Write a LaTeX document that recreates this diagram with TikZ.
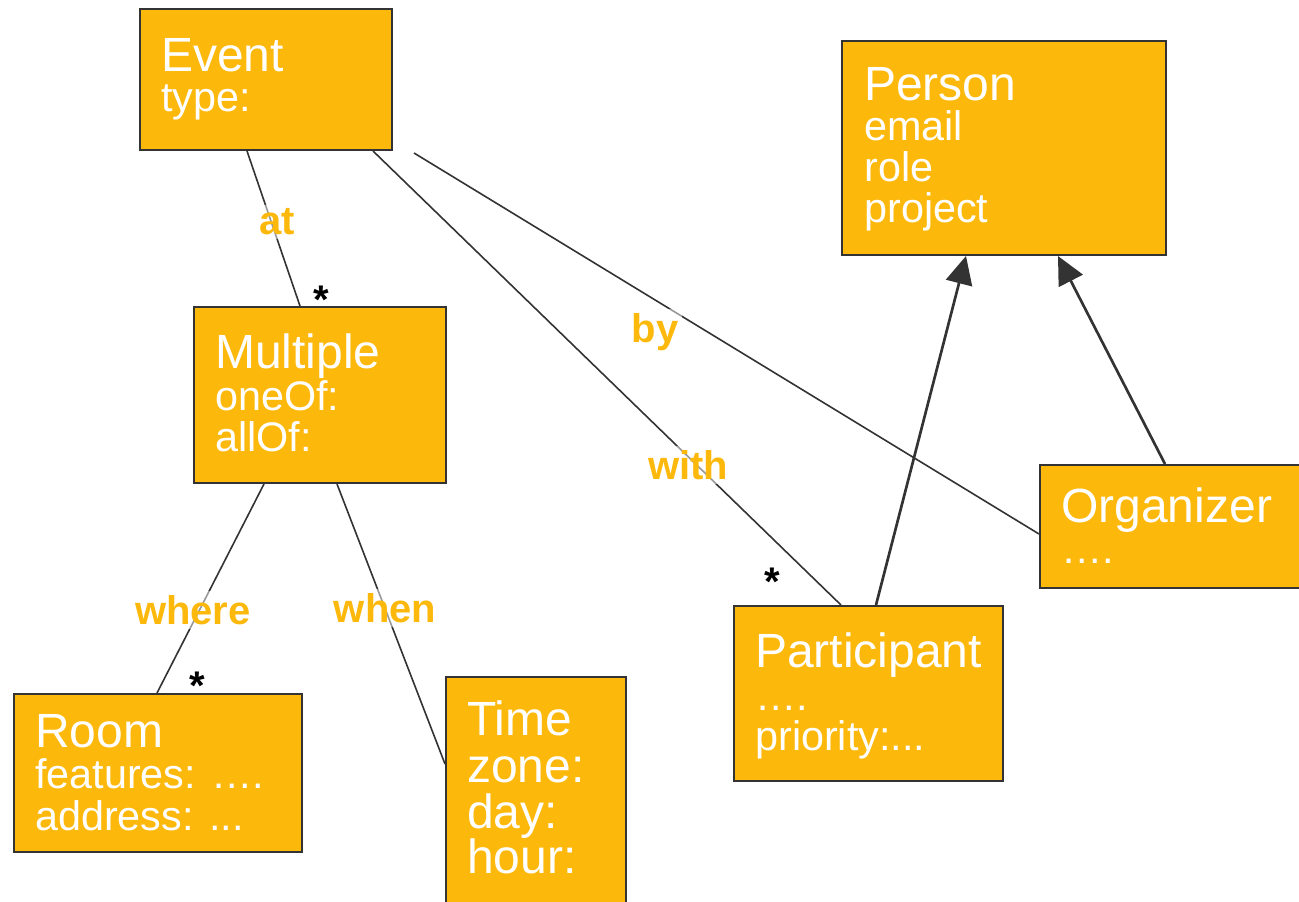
\documentclass[tikz,border=0pt]{standalone}
\usepackage{fontspec}
\setmainfont{Liberation Sans}
\usetikzlibrary{fit,calc,arrows.meta}
\definecolor{umlorange}{RGB}{253,184,12}
\definecolor{umlline}{RGB}{51,51,51}
\tikzset{
 umlbox/.style={draw=umlline, line width=1.5pt, fill=umlorange, inner sep=0pt},
 ttl/.style={anchor=base west, inner sep=0pt, text=white, font=\fontsize{36}{36}\selectfont},
 attr/.style={anchor=base west, inner sep=0pt, text=white, font=\fontsize{31}{31}\selectfont},
 conn/.style={draw=umlline, line width=1.2pt},
 gen/.style={draw=umlline, line width=2pt, -{Triangle[length=21pt,width=20pt]}, fill=umlline},
 role/.style={text=umlorange, font=\bfseries\fontsize{30}{30}\selectfont, fill=white, fill opacity=0.5, text opacity=1, inner sep=3pt},
 mult/.style={anchor=base, text=black, font=\bfseries\fontsize{30}{30}\selectfont, inner sep=0pt},
}
\begin{document}
\begin{tikzpicture}[x=0.75pt,y=-0.75pt]
\useasboundingbox (0,0) rectangle (1299,902);
% boxes
\node[umlbox, fit={(140,9)(392,150)}] (event) {};
\node[umlbox, fit={(842,41)(1166,255)}] (person) {};
\node[umlbox, fit={(194,307)(446,483)}] (multiple) {};
\node[umlbox, fit={(1040,465)(1308,588)}] (organizer) {};
\node[umlbox, fit={(734,606)(1003,781)}] (participant) {};
\node[umlbox, fit={(14,694)(302,852)}] (room) {};
\node[umlbox, fit={(446,677)(626,915)}] (time) {};
% connectors
\coordinate (byStart) at (414,153);
\draw[conn] ($(event.south west)+(108,0)$) -- ($(multiple.north west)+(107,0)$);
\draw[conn] ($(event.south west)+(234,0)$) -- ($(participant.north west)+(108,0)$);
\draw[conn] (byStart) -- ($(organizer.north west)+(0,70)$);
\draw[conn] ($(multiple.south west)+(71,0)$) -- ($(room.north west)+(144,0)$);
\draw[conn] ($(multiple.south west)+(144,0)$) -- ($(time.north west)+(0,88)$);
\draw[gen] ($(participant.north west)+(143,0)$) -- ($(person.south west)+(125,0)$);
\draw[gen] ($(organizer.north west)+(126,0)$) -- ($(person.south west)+(217,0)$);
% role labels
\node[role] (lat) at (277,222) {at};
\node[role] (lby) at (655,332) {by};
\node[role] (lwith) at (688,465) {with};
\node[role] (lwhere) at (193,610) {where};
\node[role] (lwhen) at (385,608) {when};
% multiplicities
\node[mult] (m1) at (321,313) {*};
\node[mult] (m2) at (772,595) {*};
\node[mult] (m3) at (197,699) {*};
% texts
\node[ttl] (event-t) at (161,72) {Event};
\node[attr] (event-1) at (161,112) {type:};
\node[ttl] (person-t) at (864,101) {Person};
\node[attr] (person-1) at (864,141) {email};
\node[attr] (person-2) at (864,182) {role};
\node[attr] (person-3) at (864,223) {project};
\node[ttl] (multiple-t) at (215,368) {Multiple};
\node[attr] (multiple-1) at (215,410) {oneOf:};
\node[attr] (multiple-2) at (215,451) {allOf:};
\node[ttl] (organizer-t) at (1061,522) {Organizer};
\node[attr] (organizer-1) at (1061,563) {….};
\node[ttl] (participant-t) at (755,667) {Participant};
\node[attr] (participant-1) at (755,710) {….};
\node[attr] (participant-2) at (755,750) {priority:...};
\node[ttl] (room-t) at (35,747) {Room};
\node[attr] (room-1) at (35,788) {features: ….};
\node[attr] (room-2) at (35,830) {address: ...};
\node[ttl] (time-t) at (467,735) {Time};
\node[ttl] (time-1) at (467,782) {zone:};
\node[ttl] (time-2) at (467,828) {day:};
\node[ttl] (time-3) at (467,873) {hour:};
\end{tikzpicture}
\end{document}
